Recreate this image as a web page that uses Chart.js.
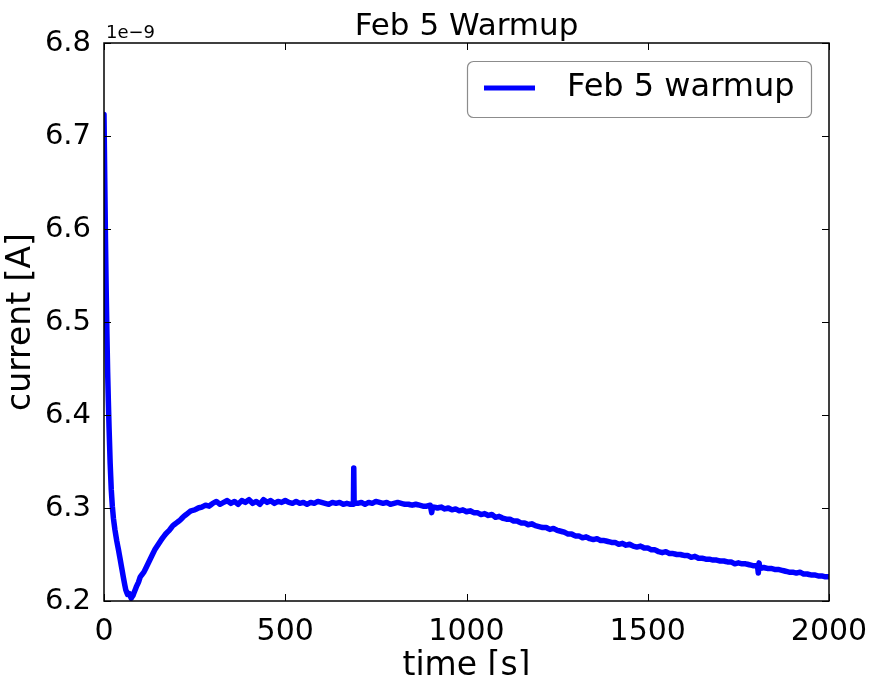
<!DOCTYPE html>
<html>
<head>
<meta charset="utf-8">
<title>Feb 5 Warmup</title>
<script src="https://cdn.jsdelivr.net/npm/chart.js@4.4.1/dist/chart.umd.min.js"></script>
<style>
	html, body { margin: 0; padding: 0; background: #ffffff; }
	canvas { display: block; }
</style>
</head>
<body>
<canvas id="warmup-chart" width="874" height="675"></canvas>
<script>
// Time axis, seconds.
const timeS = [
	0, 2, 4, 6, 8, 10, 12, 14, 17, 20, 23, 26, 30, 35, 40, 45, 50, 55, 60, 65,
	70, 75, 80, 85, 90, 95, 100, 110, 120, 130, 140, 150, 160, 170, 180, 190,
	200, 210, 220, 230, 240, 250, 260, 270, 280, 290, 300, 310, 320, 330, 340,
	350, 360, 370, 380, 390, 400, 410, 420, 430, 440, 450, 460, 470, 480, 490,
	500, 510, 520, 530, 540, 550, 560, 570, 580, 590, 600, 610, 620, 630, 640,
	650, 660, 670, 680, 688, 689, 690, 700, 710, 720, 730, 740, 750, 760, 770,
	780, 790, 800, 810, 820, 830, 840, 850, 860, 870, 880, 890, 900, 904, 906,
	910, 920, 930, 940, 950, 960, 970, 980, 990, 1000, 1010, 1020, 1030, 1040,
	1050, 1060, 1070, 1080, 1090, 1100, 1110, 1120, 1130, 1140, 1150, 1160,
	1170, 1180, 1190, 1200, 1210, 1220, 1230, 1240, 1250, 1260, 1270, 1280,
	1290, 1300, 1310, 1320, 1330, 1340, 1350, 1360, 1370, 1380, 1390, 1400,
	1410, 1420, 1430, 1440, 1450, 1460, 1470, 1480, 1490, 1500, 1510, 1520,
	1530, 1540, 1550, 1560, 1570, 1580, 1590, 1600, 1610, 1620, 1630, 1640,
	1650, 1660, 1670, 1680, 1690, 1700, 1710, 1720, 1730, 1740, 1750, 1760,
	1770, 1780, 1790, 1800, 1803, 1805, 1807, 1810, 1820, 1830, 1840, 1850,
	1860, 1870, 1880, 1890, 1900, 1910, 1920, 1930, 1940, 1950, 1960, 1970,
	1980, 1990, 2000
];

// Current, in units of 1e-9 A.
const currentNA = [
	6.723, 6.655, 6.590, 6.535, 6.488, 6.447, 6.415, 6.386, 6.348, 6.320,
	6.302, 6.289, 6.277, 6.265, 6.255, 6.244, 6.233, 6.222, 6.212, 6.207,
	6.208, 6.203, 6.206, 6.211, 6.216, 6.220, 6.226, 6.231, 6.239, 6.247,
	6.255, 6.261, 6.267, 6.272, 6.276, 6.281, 6.284, 6.287, 6.291, 6.294,
	6.297, 6.298, 6.300, 6.301, 6.303, 6.302, 6.305, 6.307, 6.304, 6.306,
	6.308, 6.305, 6.307, 6.304, 6.308, 6.306, 6.309, 6.305, 6.307, 6.304,
	6.309, 6.306, 6.308, 6.305, 6.307, 6.306, 6.308, 6.306, 6.305, 6.307,
	6.305, 6.306, 6.304, 6.306, 6.305, 6.307, 6.306, 6.305, 6.304, 6.306,
	6.305, 6.306, 6.304, 6.305, 6.304, 6.304, 6.343, 6.305, 6.305, 6.306,
	6.304, 6.306, 6.305, 6.307, 6.306, 6.305, 6.306, 6.304, 6.305, 6.306,
	6.305, 6.304, 6.304, 6.303, 6.304, 6.303, 6.302, 6.302, 6.303, 6.295,
	6.300, 6.301, 6.300, 6.301, 6.299, 6.300, 6.298, 6.299, 6.297, 6.298,
	6.296, 6.297, 6.295, 6.295, 6.293, 6.294, 6.292, 6.293, 6.290, 6.291,
	6.289, 6.288, 6.288, 6.286, 6.286, 6.284, 6.284, 6.282, 6.283, 6.281,
	6.280, 6.279, 6.279, 6.277, 6.278, 6.276, 6.275, 6.274, 6.272, 6.272,
	6.270, 6.270, 6.268, 6.269, 6.267, 6.266, 6.267, 6.265, 6.265, 6.264,
	6.263, 6.263, 6.261, 6.262, 6.260, 6.261, 6.259, 6.258, 6.259, 6.257,
	6.257, 6.255, 6.255, 6.253, 6.252, 6.253, 6.251, 6.251, 6.250, 6.250,
	6.249, 6.249, 6.247, 6.248, 6.246, 6.246, 6.245, 6.245, 6.244, 6.244,
	6.243, 6.243, 6.242, 6.242, 6.240, 6.241, 6.240, 6.240, 6.239, 6.238,
	6.238, 6.237, 6.230, 6.241, 6.235, 6.236, 6.235, 6.235, 6.234, 6.234,
	6.233, 6.232, 6.231, 6.231, 6.230, 6.231, 6.229, 6.229, 6.228, 6.228,
	6.227, 6.227, 6.226, 6.226, 6.225
];

const xTicks = [0, 500, 1000, 1500, 2000];
const yTicks = [6.2, 6.3, 6.4, 6.5, 6.6, 6.7, 6.8];
const seriesLabel = 'Feb 5 warmup';
const chartTitle = 'Feb 5 Warmup';
const offsetText = '1e\u22129';

(function() {
	'use strict';

	const FONT = "'DejaVu Sans', 'Liberation Sans', sans-serif";
	const LINE_BLUE = '#0000ff';

	// Frame, inward ticks on all sides, title, offset text and legend.
	const matplotlibLook = {
		id: 'matplotlibLook',
		afterDraw: function(chart) {
			const ctx = chart.ctx;
			const area = chart.chartArea;
			const xs = chart.scales.x;
			const ys = chart.scales.y;

			ctx.save();
			ctx.strokeStyle = '#000000';
			ctx.lineWidth = 1;

			// Inward tick marks.
			const tickLen = 7;
			ctx.beginPath();
			xTicks.forEach(function(v) {
				const px = Math.round(xs.getPixelForValue(v)) + 0.5;
				ctx.moveTo(px, area.bottom);
				ctx.lineTo(px, area.bottom - tickLen);
				ctx.moveTo(px, area.top);
				ctx.lineTo(px, area.top + tickLen);
			});
			yTicks.forEach(function(v) {
				const py = Math.round(ys.getPixelForValue(v)) + 0.5;
				ctx.moveTo(area.left, py);
				ctx.lineTo(area.left + tickLen, py);
				ctx.moveTo(area.right, py);
				ctx.lineTo(area.right - tickLen, py);
			});
			ctx.stroke();

			// Axes frame.
			ctx.lineWidth = 1.5;
			ctx.strokeRect(area.left, area.top, area.right - area.left, area.bottom - area.top);

			// Title.
			ctx.fillStyle = '#000000';
			ctx.font = '31px ' + FONT;
			ctx.textAlign = 'center';
			ctx.textBaseline = 'alphabetic';
			ctx.fillText(chartTitle, (area.left + area.right) / 2, 35);

			// Scale offset text.
			ctx.font = '18px ' + FONT;
			ctx.textAlign = 'left';
			ctx.fillText(offsetText, area.left + 2, 38);

			// Legend box.
			const lx = 467, ly = 61, lw = 344, lh = 56;
			ctx.fillStyle = '#ffffff';
			ctx.strokeStyle = '#8c8c8c';
			ctx.lineWidth = 1.2;
			ctx.beginPath();
			ctx.roundRect(lx + 0.5, ly + 0.5, lw, lh, 6);
			ctx.fill();
			ctx.stroke();

			ctx.strokeStyle = LINE_BLUE;
			ctx.lineWidth = 5;
			ctx.beginPath();
			ctx.moveTo(484, 88);
			ctx.lineTo(535, 88);
			ctx.stroke();

			ctx.fillStyle = '#000000';
			ctx.font = '32px ' + FONT;
			ctx.textBaseline = 'middle';
			ctx.fillText(seriesLabel, 567, 88);
			ctx.restore();
		}
	};

	const points = timeS.map(function(t, i) {
		return { x: t, y: currentNA[i] };
	});

	new Chart(document.getElementById('warmup-chart'), {
		type: 'line',
		data: {
			datasets: [{
				label: seriesLabel,
				data: points,
				borderColor: LINE_BLUE,
				backgroundColor: LINE_BLUE,
				borderWidth: 5.5,
				pointRadius: 0,
				// Tiny tension keeps segments straight but avoids the fast-path column artefacts.
				tension: 0.001,
				fill: false,
				borderJoinStyle: 'round',
				borderCapStyle: 'round'
			}]
		},
		options: {
			responsive: false,
			animation: false,
			devicePixelRatio: 1,
			layout: {
				padding: { top: 43, right: 45, left: 0, bottom: 0 }
			},
			plugins: {
				legend: { display: false },
				title: { display: false },
				tooltip: { enabled: false }
			},
			scales: {
				x: {
					type: 'linear',
					min: 0,
					max: 2000,
					afterFit: function(scale) { scale.height = 74; },
					afterBuildTicks: function(scale) {
						scale.ticks = xTicks.map(function(v) { return { value: v }; });
					},
					grid: { display: false },
					border: { display: false },
					ticks: {
						color: '#000000',
						padding: 5,
						maxRotation: 0,
						font: { family: FONT, size: 30, lineHeight: 1.2 },
						callback: function(value) { return String(value); }
					},
					title: {
						display: true,
						text: 'time [s]',
						color: '#000000',
						padding: { top: 0, bottom: 0 },
						font: { family: FONT, size: 33, lineHeight: 0.5 }
					}
				},
				y: {
					type: 'linear',
					min: 6.2,
					max: 6.8,
					afterFit: function(scale) { scale.width = 104; },
					afterBuildTicks: function(scale) {
						scale.ticks = yTicks.map(function(v) { return { value: v }; });
					},
					grid: { display: false },
					border: { display: false },
					ticks: {
						color: '#000000',
						padding: 5,
						font: { family: FONT, size: 29 },
						callback: function(value) { return Number(value).toFixed(1); }
					},
					title: {
						display: true,
						text: 'current [A]',
						color: '#000000',
						padding: { top: 2, bottom: 0 },
						font: { family: FONT, size: 33, lineHeight: 1.2 }
					}
				}
			}
		},
		plugins: [matplotlibLook]
	});
})();
</script>
</body>
</html>
